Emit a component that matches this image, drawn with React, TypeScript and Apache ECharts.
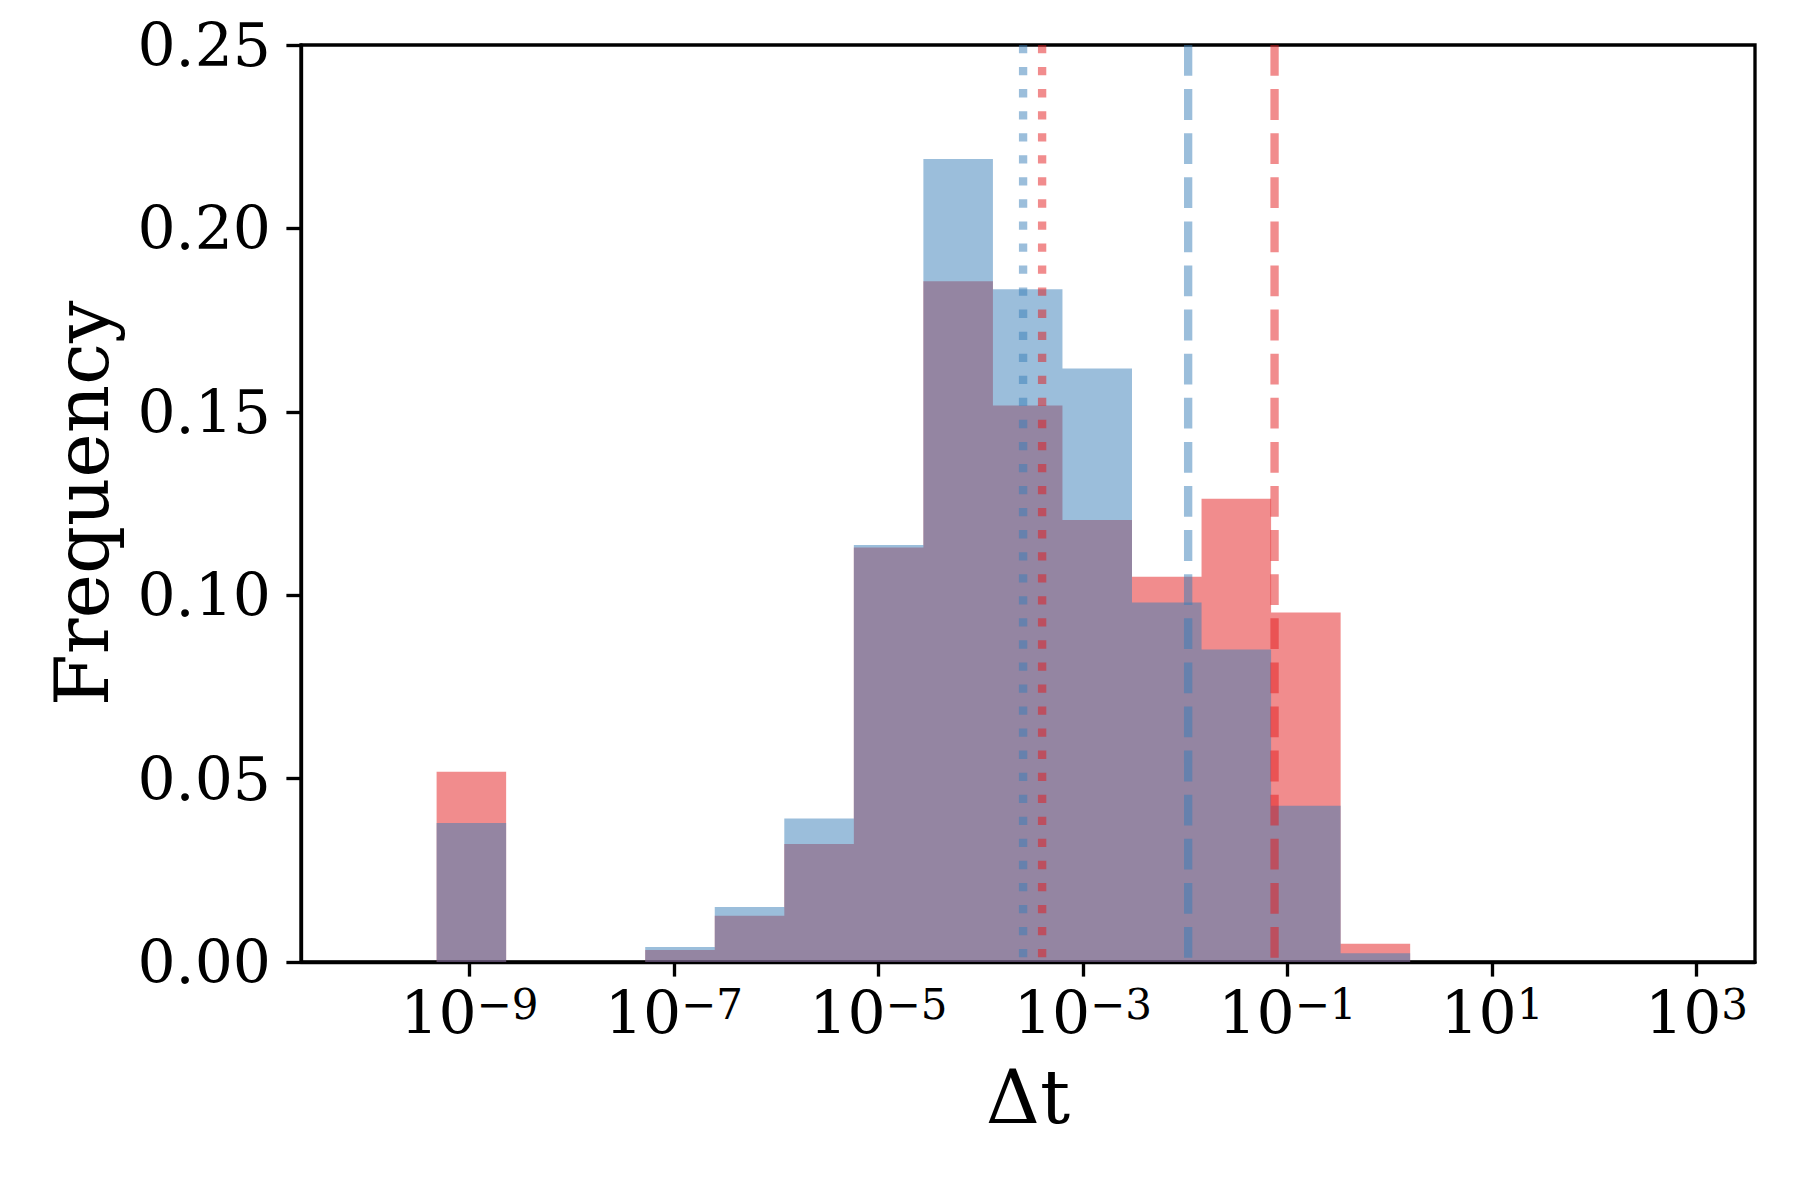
import React, { useEffect, useRef } from "react";
import * as echarts from "echarts";

// Histogram bin edges (log10 of Δt), 19 bins
const binEdgesExp = [
  -10.0, -9.32, -8.64, -7.96, -7.28, -6.6, -5.92, -5.24, -4.56, -3.88,
  -3.2, -2.52, -1.84, -1.16, -0.48, 0.2, 0.88, 1.56, 2.24, 2.92,
];
// Frequencies per bin
const blueFreq = [
  0, 0.0379, 0, 0, 0.0041, 0.015, 0.0391, 0.1137, 0.2189, 0.1834, 0.1618,
  0.098, 0.0852, 0.0426, 0.0024, 0, 0, 0, 0,
];
const redFreq = [
  0, 0.0519, 0, 0, 0.0033, 0.0126, 0.0322, 0.113, 0.1856, 0.1517, 0.1205,
  0.105, 0.1263, 0.0953, 0.005, 0, 0, 0, 0,
];
// Reference lines (log10 of Δt)
const blueMedianExp = -3.585;
const redMedianExp = -3.399;
const blueMeanExp = -1.971;
const redMeanExp = -1.126;
// Axis ticks
const xTickExp = [-9, -7, -5, -3, -1, 1, 3];
const xRangeExp = [-10.646, 3.572];
const yRange = [0, 0.25];
const yStep = 0.05;

const FONT = "DejaVu Serif";
const BLUE = "rgba(55,126,184,0.5)";
const RED = "rgba(228,26,28,0.5)";
const LW = 8.33;
const DASHED = [30.8, 13.3];
const DOTTED = [8.3, 13.75];
const SPINE = 3.33;
const TICK_FS = 60;

// Filled step histogram (one path per series, so no seams between bins)
function histSeries(name: string, freq: number[], color: string) {
  const data = freq.map((h, i) => [Math.pow(10, binEdgesExp[i]), h]);
  data.push([Math.pow(10, binEdgesExp[binEdgesExp.length - 1]), 0]);
  return {
    type: "line",
    name,
    silent: true,
    step: "end",
    showSymbol: false,
    symbol: "none",
    data,
    lineStyle: { width: 0, opacity: 0 },
    areaStyle: { color, opacity: 1, origin: "start" },
  };
}

function vLine(name: string, exp: number, color: string, dash: number[]) {
  const x = Math.pow(10, exp);
  return {
    type: "line",
    name,
    silent: true,
    showSymbol: false,
    symbol: "none",
    data: [
      [x, yRange[1]],
      [x, yRange[0]],
    ],
    lineStyle: { color, width: LW, type: dash, cap: "butt" },
  };
}

export default function App() {
  const ref = useRef<HTMLDivElement>(null);
  useEffect(() => {
    if (!ref.current) return;
    const chart = echarts.init(ref.current, undefined, { renderer: "svg" });
    const option: any = {
      animation: false,
      backgroundColor: "#ffffff",
      textStyle: { fontFamily: FONT, color: "#000" },
      grid: {
        left: 301,
        right: 45,
        top: 45,
        bottom: 238,
        show: true,
        borderColor: "#000",
        borderWidth: SPINE,
        backgroundColor: "transparent",
      },
      xAxis: {
        type: "log",
        logBase: 10,
        min: Math.pow(10, xRangeExp[0]),
        max: Math.pow(10, xRangeExp[1]),
        name: "Δt",
        nameLocation: "middle",
        nameGap: 97,
        nameTextStyle: { fontFamily: FONT, fontSize: 75, lineHeight: 75, color: "#000" },
        axisLine: { lineStyle: { color: "#000", width: SPINE } },
        axisTick: {
          show: true,
          length: 14.6,
          lineStyle: { color: "#000", width: SPINE },
          customValues: xTickExp.map((e) => Math.pow(10, e)),
        },
        minorTick: { show: false },
        splitLine: { show: false },
        axisLabel: {
          customValues: xTickExp.map((e) => Math.pow(10, e)),
          margin: 21,
          formatter: (v: number) => {
            const e = Math.round(Math.log10(v));
            return `{b|10}{s|${e < 0 ? "\u2212" : ""}${Math.abs(e)}}`;
          },
          rich: {
            b: { fontFamily: FONT, fontSize: TICK_FS, lineHeight: 60, color: "#000" },
            s: { fontFamily: FONT, fontSize: 42, lineHeight: 16, verticalAlign: "top", color: "#000" },
          },
        },
      },
      yAxis: {
        type: "value",
        min: yRange[0],
        max: yRange[1],
        interval: yStep,
        name: "Frequency",
        nameLocation: "middle",
        nameGap: 182,
        nameRotate: 90,
        nameTextStyle: { fontFamily: FONT, fontSize: 75, lineHeight: 75, color: "#000" },
        axisLine: { show: true, lineStyle: { color: "#000", width: SPINE } },
        axisTick: { show: true, length: 14.6, lineStyle: { color: "#000", width: SPINE } },
        splitLine: { show: false },
        axisLabel: {
          margin: 30,
          fontFamily: FONT,
          fontSize: TICK_FS,
          color: "#000",
          formatter: (v: number) => v.toFixed(2),
        },
      },
      series: [
        histSeries("red", redFreq, RED),
        histSeries("blue", blueFreq, BLUE),
        vLine("blue median", blueMedianExp, BLUE, DOTTED),
        vLine("red median", redMedianExp, RED, DOTTED),
        vLine("blue mean", blueMeanExp, BLUE, DASHED),
        vLine("red mean", redMeanExp, RED, DASHED),
      ],
    };
    chart.setOption(option);
    return () => chart.dispose();
  }, []);
  return (
    <div
      ref={ref}
      style={{ position: "absolute", left: 0, top: 0, width: 1800, height: 1200 }}
    />
  );
}
